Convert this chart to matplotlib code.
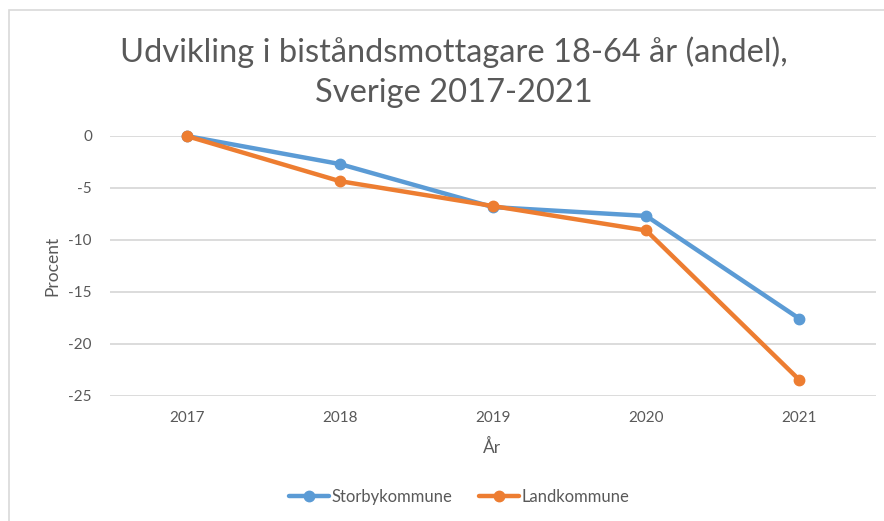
import matplotlib
matplotlib.use("Agg")
import matplotlib.pyplot as plt
from matplotlib.patches import Rectangle

# ---------- Data ----------
years = ["2017", "2018", "2019", "2020", "2021"]
storby = [0.0, -2.7, -6.85, -7.7, -17.6]
land = [0.0, -4.35, -6.75, -9.1, -23.5]
yticks = [0, -5, -10, -15, -20, -25]

BLUE = "#5B9BD5"
ORANGE = "#ED7D31"
TXT = "#595959"
GRID = "#D9D9D9"

plt.rcParams.update({
    "font.family": ["Lato", "DejaVu Sans"],
    "text.color": TXT,
    "axes.labelcolor": TXT,
    "xtick.color": TXT,
    "ytick.color": TXT,
})

W, H = 884, 521
fig = plt.figure(figsize=(W / 100, H / 100), dpi=100)

# chart frame (Excel style, cut at right/bottom)
fig.patches.append(Rectangle((9 / W, -0.1), 1.2, 1.1 - 10 / H, transform=fig.transFigure,
                             fill=False, edgecolor=GRID, linewidth=1.2))

ax = fig.add_axes([110 / W, 1 - 395.5 / H, (876 - 110) / W, (395.5 - 136) / H])
x = list(range(len(years)))
ax.plot(x, storby, color=BLUE, lw=3.2, marker="o", ms=7.5, label="Storbykommune",
        clip_on=False, zorder=3, solid_capstyle="round")
ax.plot(x, land, color=ORANGE, lw=3.2, marker="o", ms=7.5, label="Landkommune",
        clip_on=False, zorder=4, solid_capstyle="round")

ax.set_xlim(-0.5, len(years) - 0.5)
ax.set_ylim(-25, 0)
ax.set_yticks(yticks)
ax.set_yticklabels([str(v) for v in yticks])
ax.set_xticks(x)
ax.set_xticklabels(years)
ax.tick_params(axis="both", length=0, labelsize=11)
ax.tick_params(axis="y", pad=13)
ax.tick_params(axis="x", pad=11)
ax.yaxis.grid(True, color=GRID, linewidth=1.3)
ax.set_axisbelow(True)
for s in ax.spines.values():
    s.set_visible(False)

fig.text(52 / W, 1 - 266 / H, "Procent", rotation=90, ha="center", va="center", fontsize=12.5)
fig.text(492 / W, 1 - 447 / H, "År", ha="center", va="center", fontsize=12.5)
fig.text(454 / W, 1 - 72 / H, "Udvikling i biståndsmottagare 18-64 år (andel),\nSverige 2017-2021",
         ha="center", va="center", fontsize=23.5, linespacing=1.42)

fig.legend(loc="center", bbox_to_anchor=(459 / W, 1 - 497 / H), ncol=2, frameon=False,
           fontsize=12, handlelength=2.4, columnspacing=1.6, handletextpad=0.15)

fig.savefig("out.png", dpi=100, facecolor="white")
